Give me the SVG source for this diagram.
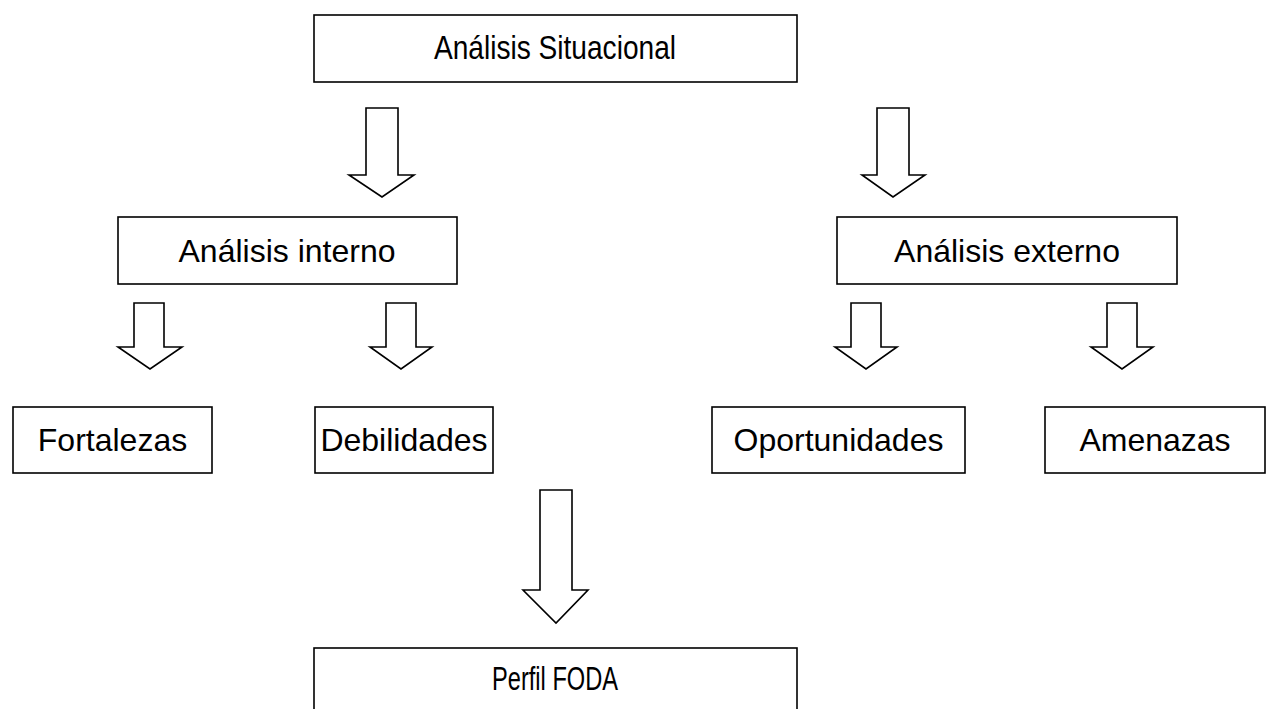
<svg xmlns="http://www.w3.org/2000/svg" width="1288" height="709" viewBox="0 0 1288 709">
<style>
.box{fill:#fff;stroke:#000;stroke-width:1.6}
.arr{fill:#fff;stroke:#000;stroke-width:1.6;stroke-linejoin:miter}
.t{font-family:"Liberation Sans",Arial,sans-serif;font-size:32px;fill:#000;text-anchor:middle}
.c{font-size:33px}
</style>
<rect width="1288" height="709" fill="#fff"/>
<g id="connectors">
<polygon class="arr" points="366,108 398,108 398,175 414,175 382,197 349,175 366,175"/>
<polygon class="arr" points="877,108 909,108 909,175 925,175 893,197 862,175 877,175"/>
<polygon class="arr" points="134,303 164,303 164,347 182,347 150,369 118,347 134,347"/>
<polygon class="arr" points="386,303 416,303 416,347 432,347 401,369 370,347 386,347"/>
<polygon class="arr" points="851,303 881,303 881,347 897,347 866,369 835,347 851,347"/>
<polygon class="arr" points="1107,303 1137,303 1137,347 1153,347 1122,369 1091,347 1107,347"/>
<polygon class="arr" points="540,490 572,490 572,590 588,590 556,623 523,590 540,590"/>
</g>
<g id="n-situacional">
<rect class="box" x="314" y="15" width="483" height="67"/>
<text class="t c" x="555" y="59" textLength="242" lengthAdjust="spacingAndGlyphs">Análisis Situacional</text>
</g>
<g id="n-interno">
<rect class="box" x="118" y="217" width="339" height="67"/>
<text class="t" x="287" y="262">Análisis interno</text>
</g>
<g id="n-externo">
<rect class="box" x="837" y="217" width="340" height="67"/>
<text class="t" x="1007" y="262">Análisis externo</text>
</g>
<g id="n-fortalezas">
<rect class="box" x="13" y="407" width="199" height="66"/>
<text class="t" x="112.5" y="451">Fortalezas</text>
</g>
<g id="n-debilidades">
<rect class="box" x="315" y="407" width="178" height="66"/>
<text class="t" x="404" y="451">Debilidades</text>
</g>
<g id="n-oportunidades">
<rect class="box" x="712" y="407" width="253" height="66"/>
<text class="t" x="838.5" y="451">Oportunidades</text>
</g>
<g id="n-amenazas">
<rect class="box" x="1045" y="407" width="220" height="66"/>
<text class="t" x="1155" y="451">Amenazas</text>
</g>
<g id="n-foda">
<rect class="box" x="314" y="648" width="483" height="70"/>
<text class="t c" x="555" y="690" textLength="126" lengthAdjust="spacingAndGlyphs">Perfil FODA</text>
</g>
</svg>
